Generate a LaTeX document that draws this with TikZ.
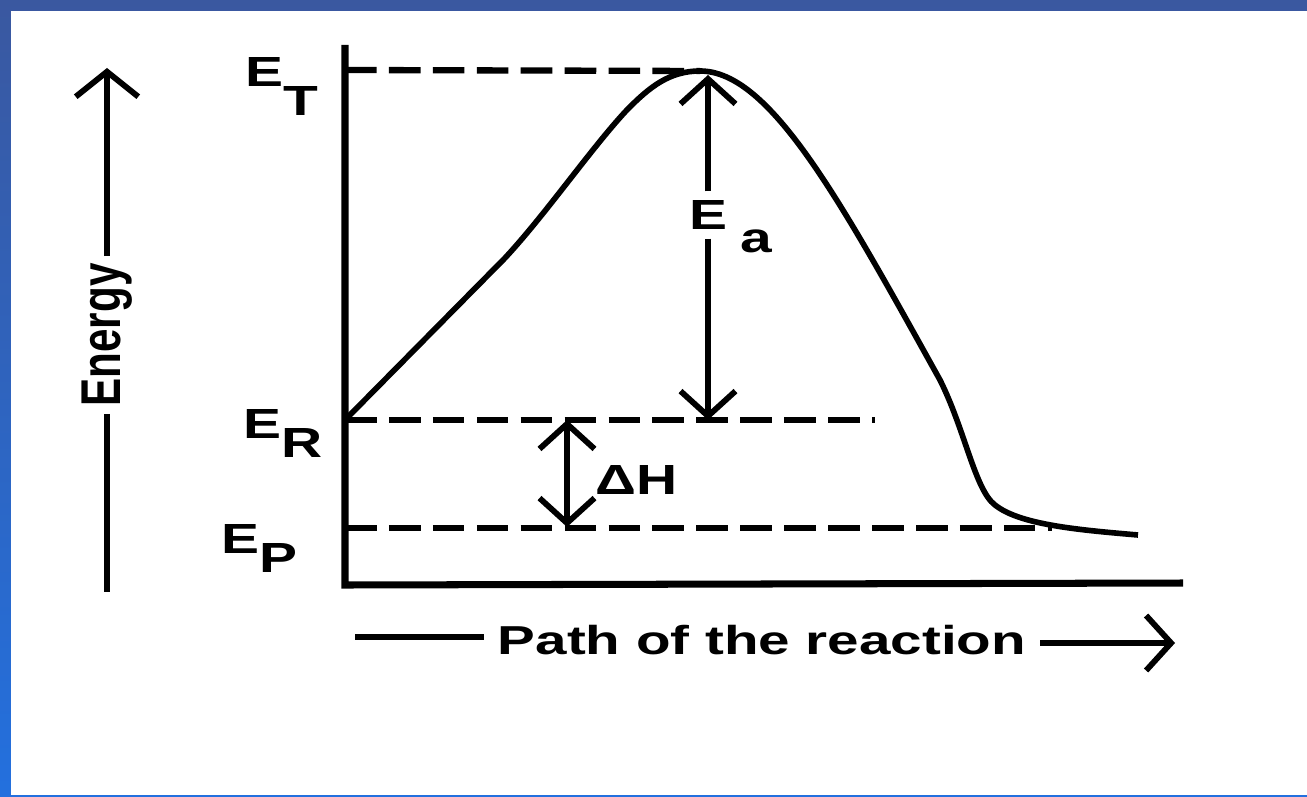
\documentclass[tikz,border=0pt]{standalone}
\usepackage{fontspec}
\setmainfont{Liberation Sans}
\usetikzlibrary{arrows.meta,positioning,calc}
\definecolor{slidetop}{RGB}{58,88,160}
\definecolor{slidebot}{RGB}{35,112,222}
\newcommand{\wide}[2][1.35]{\scalebox{#1}[1]{#2}}
\newcommand{\lvl}[2]{\wide{E\raisebox{#2}{#1}}}

\begin{document}
\begin{tikzpicture}[x=0.02cm,y=-0.02cm,
 every node/.style={font=\fontsize{24}{28}\selectfont\bfseries,inner sep=0pt},
 >={Straight Barb[length=5mm,width=11mm]},
 axis/.style={line width=4pt},
 curve/.style={line width=3.2pt},
 lvl/.style={line width=3.6pt,dash pattern=on 18pt off 7pt},
 tip/.style={line width=3.3pt},
 lbl/.style={anchor=base west}]
% slide frame
\fill[top color=slidetop,bottom color=slidebot] (0,0) rectangle (1307,797);
\fill[white] (11,11) rectangle (1307,795);
\useasboundingbox (0,0) rectangle (1307,797);
% energy arrow
\node[rotate=90,inner xsep=4pt] (energy) at (107,335) {\scalebox{1}[1.33]{Energy}};
\coordinate (eBot) at (107,592); \coordinate (eTop) at (107,68);
\draw[tip] (energy) -- (eBot);
\draw[tip,-{Straight Barb[length=5mm,width=12.5mm]}] (energy) -- (eTop);
% axes
\coordinate (yTop) at (345,45); \coordinate (O) at (345,585); \coordinate (xEnd) at (1183,583);
\draw[axis] (yTop) -- (O) -- (xEnd);
% levels
\coordinate (R) at (345,420); \coordinate (T) at (700,71); \coordinate (P) at (1138,535);
\draw[lvl] (345,70) -- (T);
\draw[lvl] (R) -- (875,420);
\draw[lvl] (345,528) -- (1052,528);
\node[lbl] (ET) at (245,87) {\lvl{T}{-16pt}};
\node[lbl] (ER) at (243,438) {\lvl{R}{-11pt}};
\node[lbl] (EP) at (221,553) {\lvl{P}{-11pt}};
% reaction profile
\draw[curve] (R) -- (505,258) .. controls (545,215) and (590,150) .. (625,112)
 .. controls (650,86) and (670,71) .. (T)
 .. controls (770,71) and (840,200) .. (940,380)
 .. controls (965,430) and (975,490) .. (995,505)
 .. controls (1020,525) and (1080,530) .. (P);
% activation energy
\node[inner ysep=5pt] (ea) at (708,215) {\wide{E}};
\node[lbl] (eaSub) at (740,252) {\wide{a}};
\coordinate (eaTop) at (708,75); \coordinate (eaBot) at (708,420);
\draw[tip,->] (ea) -- (eaTop);
\draw[tip,->] (ea) -- (eaBot);
% enthalpy change
\coordinate (dhTop) at (567,420); \coordinate (dhBot) at (567,527);
\draw[tip,<->] (dhBot) -- (dhTop);
\node[lbl] (dh) at (595,494) {\wide{ΔH}};
% reaction path
\node[anchor=base,inner xsep=8pt,font=\fontsize{23}{28}\selectfont\bfseries] (path) at (762,654) {\wide[1.4]{Path of the reaction}};
\coordinate (pL) at (355,637); \coordinate (pR) at (1175,643);
\draw[tip] (pL) -- (pL -| path.west);
\draw[tip,->] (path.east |- pR) -- (pR);
\end{tikzpicture}
\end{document}
